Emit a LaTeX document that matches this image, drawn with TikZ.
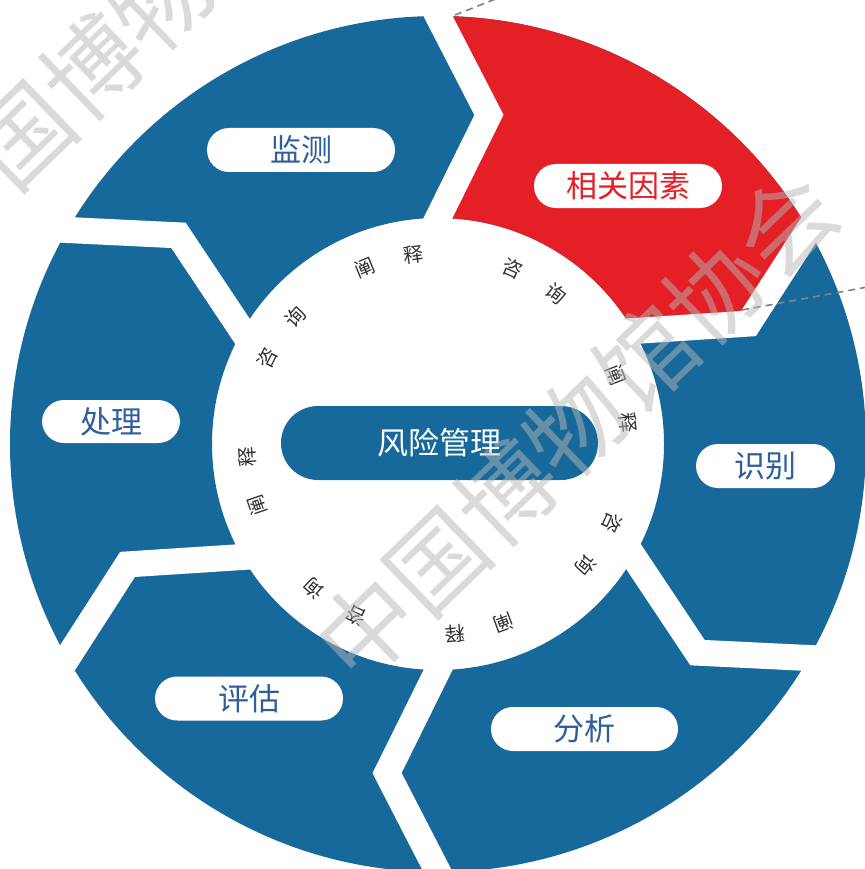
\documentclass[tikz,border=0pt]{standalone}
\usepackage{fontspec}
\newfontfamily\cjk{Noto Sans CJK SC}
\usetikzlibrary{calc}
\definecolor{segblue}{RGB}{23,105,155}
\definecolor{segred}{RGB}{228,31,38}
\definecolor{lblblue}{RGB}{46,94,156}
\definecolor{wmgray}{RGB}{182,182,182}
\definecolor{dashgray}{RGB}{130,130,130}
\begin{document}
\begin{tikzpicture}[x=1pt,y=1pt,
  pill/.style={fill=white, rounded corners=22pt, minimum height=44pt, inner sep=0pt,
    text=lblblue, font=\cjk\fontsize{31}{31}\selectfont},
  gapline/.style={draw=white, line width=26pt, line join=miter, miter limit=10},
  ringchar/.style={font=\cjk\fontsize{20}{20}\selectfont, text=black!80, inner sep=0pt},
  wmtext/.style={text=wmgray, text opacity=0.5, inner sep=0pt, font=\cjk\fontsize{97}{97}\selectfont},
  callout/.style={draw=dashgray, line width=1.6pt, dash pattern=on 7pt off 5pt}
]
\useasboundingbox (0,0) rectangle (864,-869);
\coordinate (c) at (438,-444);

% blue ring
\fill[segblue, even odd rule] (c) circle[radius=428pt] (c) circle[radius=226pt];

% red segment
\fill[segred] ($(c)+(90:428pt)$) arc[start angle=90, end angle=30, radius=428pt]
  -- ($(c)+(21.2:333pt)$) -- ($(c)+(30:226pt)$)
  arc[start angle=30, end angle=90, radius=226pt]
  -- ($(c)+(81.2:333pt)$) -- cycle;

% white chevron gaps
\foreach \t [count=\i] in {90,30,-30,-90,-150,150} {
  \coordinate (gin\i) at ($(c)+(\t:226pt)$);
  \coordinate (gtip\i) at ($(c)+(\t-8.8:333pt)$);
  \coordinate (gout\i) at ($(c)+(\t:428pt)$);
  \draw[gapline] ($(gtip\i)!1.4!(gin\i)$) -- (gtip\i) -- ($(gtip\i)!1.4!(gout\i)$);
}

% ring of small characters
\foreach \k/\ca/\cb in {0/阐/释,1/咨/询,2/阐/释,3/咨/询,4/阐/释,5/咨/询,6/阐/释,7/咨/询} {
  \pgfmathsetmacro\aa{105-45.6*\k+7.5}
  \pgfmathsetmacro\ab{105-45.6*\k-7.5}
  \pgfmathsetmacro\ra{\aa-90}
  \pgfmathsetmacro\rb{\ab-90}
  \node[ringchar, rotate=\ra] (ra\k) at ($(c)+(\aa:191pt)$) {\ca};
  \node[ringchar, rotate=\rb] (rb\k) at ($(c)+(\ab:191pt)$) {\cb};
}

% centre
\node[fill=segblue, rounded corners=37pt, minimum width=317pt, minimum height=74pt,
  inner sep=0pt, text=white, font=\cjk\fontsize{31}{31}\selectfont] (core) at (439.5,-443) {风险管理};

% labels
\node[pill, minimum width=188pt] (jc) at (301,-150) {监测};
\node[pill, minimum width=188pt, text=segred] (xg) at (628,-186) {相关因素};
\node[pill, minimum width=139pt] (sb) at (765.5,-466) {识别};
\node[pill, minimum width=187pt] (fx) at (584.5,-729) {分析};
\node[pill, minimum width=188pt] (pg) at (249,-698.5) {评估};
\node[pill, minimum width=138pt, minimum height=43pt] (cl) at (111,-421.5) {处理};

% dashed callouts
\coordinate (d1s) at (455,-15);
\coordinate (d1e) at (531,15);
\coordinate (d2s) at (742,-310);
\coordinate (d2e) at (884,-284);
\draw[callout] (d1s) -- (d1e);
\draw[callout] (d2s) -- (d2e);

% watermark
\begin{scope}
\clip (0,0) rectangle (864,-869);
\node[wmtext, rotate=44] (wm1) at (576,-426) {中国博物馆协会};
\node[wmtext, rotate=44] (wm2) at (162,0) {中国博物馆协会};
\end{scope}
\end{tikzpicture}
\end{document}
